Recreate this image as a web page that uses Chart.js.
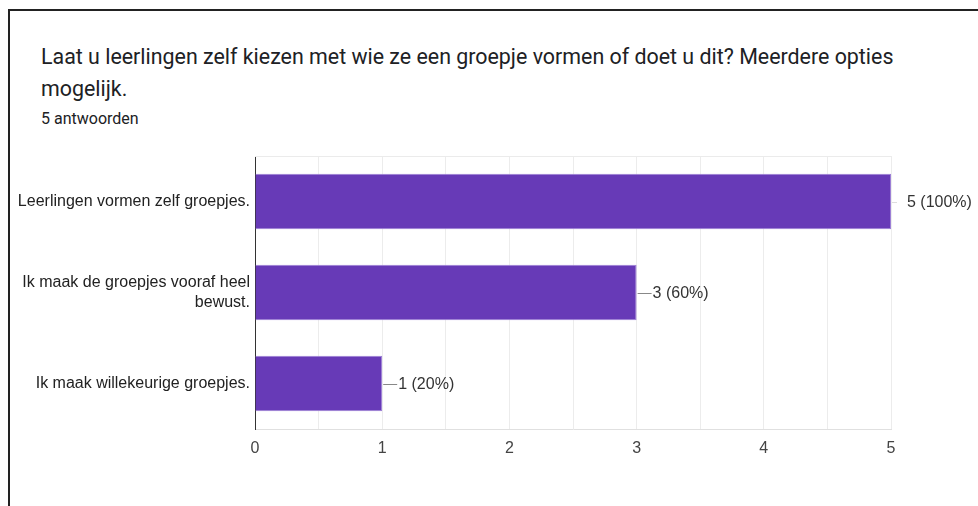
<!DOCTYPE html>
<html>
<head>
<meta charset="utf-8">
<script src="https://cdn.jsdelivr.net/npm/chart.js@4"></script>
<style>
  body { margin: 0; background: #fff; width: 978px; height: 506px; overflow: hidden; }
  #frame { position: absolute; left: 8px; top: 9px; width: 980px; height: 510px;
           border-left: 2px solid #222; border-top: 2px solid #222; }
  #title { position: absolute; left: 41px; top: 41px; font-family: Roboto, sans-serif;
           font-size: 21.4px; line-height: 32px; color: #202124; }
  #sub { position: absolute; left: 41px; top: 109px; font-family: Roboto, sans-serif;
         font-size: 16px; line-height: 20px; color: #202124; }
  #box { position: absolute; left: 0; top: 140px; width: 978px; height: 329px; }
</style>
</head>
<body>
<div id="frame"></div>
<div id="title">Laat u leerlingen zelf kiezen met wie ze een groepje vormen of doet u dit? Meerdere opties<br>mogelijk.</div>
<div id="sub">5 antwoorden</div>
<div id="box"><canvas id="chart"></canvas></div>

<script>
// gegevens
const categories = [
  'Leerlingen vormen zelf groepjes.',
  ['Ik maak de groepjes vooraf heel', 'bewust.'],
  'Ik maak willekeurige groepjes.'
];
const counts = [5, 3, 1];
const totalAnswers = 5;
const xTicks = [0, 1, 2, 3, 4, 5];

const labelFont = '"Liberation Sans", Arial, sans-serif';

// labels achter de balken, met een kort lijntje
const valueLabels = {
  id: 'valueLabels',
  afterDatasetsDraw(chart) {
    const ctx = chart.ctx;
    const meta = chart.getDatasetMeta(0);
    const xMax = chart.scales.x.max;
    ctx.save();
    ctx.font = '16px ' + labelFont;
    ctx.textBaseline = 'middle';
    meta.data.forEach((bar, i) => {
      const v = counts[i];
      const pct = Math.round(v / totalAnswers * 100);
      // bij de volle balk is het lijntje bijna onzichtbaar
      ctx.strokeStyle = v >= xMax ? '#ddd' : '#888';
      ctx.lineWidth = 1;
      ctx.beginPath();
      ctx.moveTo(bar.x + 1, Math.round(bar.y) + 0.5);
      ctx.lineTo(bar.x + (v >= xMax ? 6 : 15), Math.round(bar.y) + 0.5);
      ctx.stroke();
      ctx.fillStyle = '#333';
      ctx.fillText(v + ' (' + pct + '%)', bar.x + 16, bar.y + 1);
    });
    // bovenrand van het plotvlak
    const a = chart.chartArea;
    ctx.strokeStyle = '#ebebeb';
    ctx.beginPath();
    ctx.moveTo(a.left, a.top + 0.5);
    ctx.lineTo(a.right, a.top + 0.5);
    ctx.stroke();
    ctx.restore();
  }
};

new Chart(document.getElementById('chart'), {
  type: 'bar',
  data: {
    labels: categories,
    datasets: [{
      data: counts,
      backgroundColor: '#673ab7',
      borderColor: '#9c7fd6',
      borderWidth: 1,
      categoryPercentage: 0.61,
      barPercentage: 1
    }]
  },
  options: {
    indexAxis: 'y',
    responsive: true,
    maintainAspectRatio: false,
    animation: false,
    layout: { padding: { top: 16, right: 87, left: 0, bottom: 0 } },
    plugins: { legend: { display: false }, tooltip: { enabled: false } },
    scales: {
      x: {
        min: 0,
        max: 5,
        afterFit(scale) { scale.height = 40; },
        afterBuildTicks(scale) {
          scale.ticks = [];
          for (let v = 0; v <= 5; v += 0.5) scale.ticks.push({ value: v });
        },
        grid: { color: '#ececec', drawTicks: false },
        border: { color: '#e0e0e0' },
        ticks: {
          padding: 10,
          color: '#444',
          font: { family: labelFont, size: 16 },
          callback: (v) => xTicks.includes(v) ? String(v) : ''
        }
      },
      y: {
        afterFit(scale) { scale.width = 255; },
        grid: { display: false, drawTicks: false },
        border: { color: '#333', width: 1 },
        ticks: {
          padding: 5,
          color: '#222',
          font: { family: labelFont, size: 16, lineHeight: 1.3 }
        }
      }
    }
  },
  plugins: [valueLabels]
});
</script>
</body>
</html>
